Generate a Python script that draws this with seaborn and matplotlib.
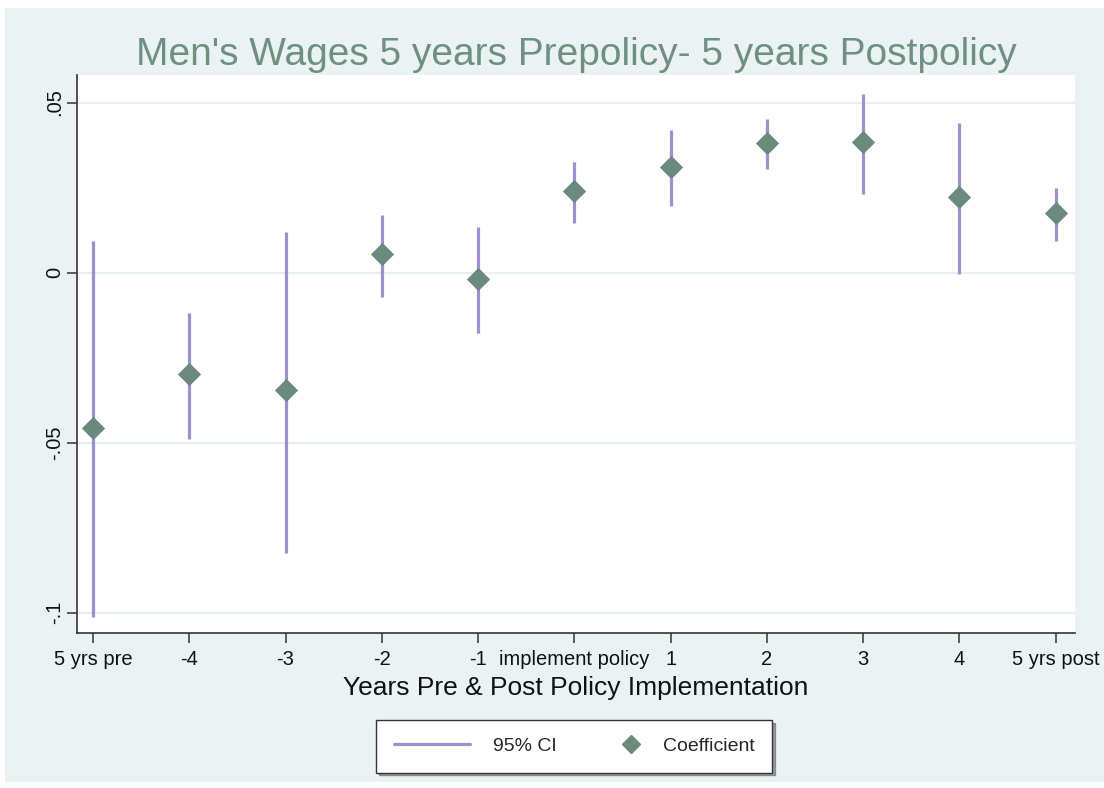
import matplotlib
matplotlib.use("Agg")
import matplotlib.pyplot as plt
import seaborn as sns
import pandas as pd
from matplotlib.lines import Line2D
from matplotlib.patches import Rectangle
from matplotlib.legend_handler import HandlerLine2D

# ==========================
# Data
# ==========================
period = [0, 1, 2, 3, 4, 5, 6, 7, 8, 9, 10]
tick_labels = ["5 yrs pre", "-4", "-3", "-2", "-1", "implement policy",
               "1", "2", "3", "4", "5 yrs post"]
coef = [-0.0457, -0.0299, -0.0345, 0.0054, -0.0019, 0.0239,
        0.0310, 0.0381, 0.0384, 0.0223, 0.0176]
ci_low = [-0.1014, -0.0489, -0.0824, -0.0071, -0.0177, 0.0146,
          0.0196, 0.0305, 0.0231, -0.0004, 0.0093]
ci_high = [0.0092, -0.0118, 0.0120, 0.0169, 0.0134, 0.0325,
           0.0420, 0.0452, 0.0526, 0.0441, 0.0248]
y_ticks = [-0.1, -0.05, 0, 0.05]
y_tick_labels = ["-.1", "-.05", "0", ".05"]

df = pd.DataFrame({"period": period, "coef": coef,
                   "lo": ci_low, "hi": ci_high})

# ==========================
# Style
# ==========================
bg = "#eaf2f3"
ci_color = "#9d91d6"
pt_color = "#6a8b7b"
title_color = "#6f8f80"

sns.set_style("white")
plt.rcParams["font.family"] = ["Liberation Sans", "DejaVu Sans"]

fig = plt.figure(figsize=(11.04, 7.88), dpi=100)
fig.patch.set_facecolor("white")
fig.add_artist(Rectangle((5 / 1104, 6 / 788), 1099 / 1104, 774 / 788,
                         transform=fig.transFigure, facecolor=bg,
                         edgecolor="none", zorder=-10))

ax = fig.add_axes([77 / 1104, 155 / 788, 998 / 1104, 558 / 788])
ax.set_facecolor("white")

# grid lines
for yv in y_ticks:
    ax.axhline(yv, color="#e8eff1", lw=1.5, zorder=0)

# ==========================
# Plot
# ==========================
ax.vlines(df["period"], df["lo"], df["hi"], color=ci_color, lw=2.3, zorder=2)
sns.scatterplot(data=df, x="period", y="coef", marker="D", s=140,
                color=pt_color, edgecolor=pt_color, linewidth=0,
                zorder=3, ax=ax, legend=False)

ax.set_xlim(-0.166, 10.2)
ax.set_ylim(-0.106, 0.0581)
ax.set_xticks(period)
ax.set_xticklabels(tick_labels, fontsize=14.5)
ax.set_yticks(y_ticks)
ax.set_yticklabels(y_tick_labels, fontsize=14.5, rotation=90, va="center")

for side in ["top", "right"]:
    ax.spines[side].set_visible(False)
for side in ["left", "bottom"]:
    ax.spines[side].set_color("#333333")
    ax.spines[side].set_linewidth(1.2)
ax.tick_params(axis="both", direction="out", length=7, width=1.1,
               color="#333333", labelcolor="#111111", left=True, bottom=True)
ax.tick_params(axis="y", pad=2)
ax.tick_params(axis="x", pad=5)

ax.set_xlabel("Years Pre & Post Policy Implementation", fontsize=19,
              color="#111111", labelpad=5)
ax.set_ylabel("")
ax.set_title("Men's Wages 5 years Prepolicy- 5 years Postpolicy",
             fontsize=28, color=title_color, pad=7)

# ==========================
# Legend
# ==========================
ci_handle = Line2D([0], [0], color=ci_color, lw=2.3)
pt_handle = Line2D([0], [0], color=pt_color, marker="D", ls="none", markersize=9)
leg = fig.legend([ci_handle, pt_handle], ["95% CI", "Coefficient"], loc="center",
                 bbox_to_anchor=(0.52, 0.053), ncol=2, fontsize=14,
                 handlelength=3.9, columnspacing=0.35, borderpad=0.9,
                 handletextpad=1.2, frameon=True, fancybox=False,
                 shadow=True, edgecolor="#333333",
                 handler_map={pt_handle: HandlerLine2D(xpad=3.0)})
leg.get_frame().set_linewidth(1.0)
leg.get_frame().set_facecolor("white")

fig.savefig("out.png", dpi=100, facecolor=fig.get_facecolor())
